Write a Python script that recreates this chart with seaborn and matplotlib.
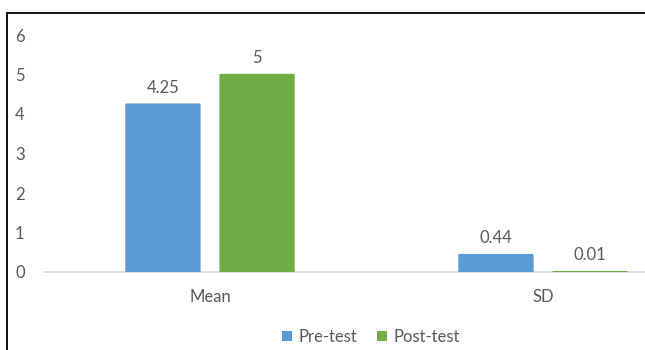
import matplotlib
matplotlib.use("Agg")
import matplotlib.pyplot as plt
from matplotlib.lines import Line2D
from matplotlib.patches import Patch
import seaborn as sns
import pandas as pd

# Summary statistics for the two test rounds
stats = ["Mean", "SD"]
pre_test = [4.25, 0.44]
post_test = [5, 0.01]
series_names = ["Pre-test", "Post-test"]
series_colors = ["#5B9BD5", "#70AD47"]
y_ticks = [0, 1, 2, 3, 4, 5, 6]

df = pd.DataFrame({
    "stat": stats * 2,
    "value": pre_test + post_test,
    "series": [series_names[0]] * len(stats) + [series_names[1]] * len(stats),
})

sns.set_theme(style="white")
plt.rcParams["font.family"] = ["Lato", "DejaVu Sans"]
text_gray = "#595959"
fs = 12

W, H = 645, 350
fig = plt.figure(figsize=(W / 100, H / 100), dpi=100)
# plot area: category band runs past the right edge of the canvas
left_px, right_px, top_px, bottom_px = 43.5, 709.5, 35, 272
ax = fig.add_axes([left_px / W, 1 - bottom_px / H,
                   (right_px - left_px) / W, (bottom_px - top_px) / H])

sns.barplot(data=df, x="stat", y="value", hue="series",
            palette=series_colors, width=0.565, gap=0.214,
            saturation=1, ax=ax, legend=False)

# thin outline in each bar's own colour keeps very small values visible
for container, color in zip(ax.containers, series_colors):
    for bar in container:
        bar.set_edgecolor(color)
        bar.set_linewidth(1.0)
        bar.set_snap(False)
        bar.set_zorder(3)

ax.set_xlim(-0.5, 1.5)
ax.set_ylim(0, 6)
ax.set_yticks(y_ticks)
ax.set_xlabel("")
ax.set_ylabel("")
for s in ax.spines.values():
    s.set_visible(False)
ax.axhline(0, color="#D9D9D9", lw=1.2, zorder=1, clip_on=False)
ax.tick_params(axis="both", length=0, labelsize=fs, colors=text_gray)
ax.tick_params(axis="x", pad=12)
ax.tick_params(axis="y", pad=17)
for lbl in ax.get_yticklabels():
    lbl.set_horizontalalignment("center")

# value labels above each bar
for container in ax.containers:
    labels = [f"{b.get_height():g}" for b in container]
    ax.bar_label(container, labels=labels, padding=6, fontsize=fs, color=text_gray)

# legend below the plot
handles = [Patch(facecolor=c, edgecolor="none") for c in series_colors]
fig.legend(handles, series_names, loc="center", bbox_to_anchor=(0.575, 0.037),
           ncol=2, frameon=False, fontsize=fs, labelcolor=text_gray,
           handlelength=0.6, handleheight=0.6, handletextpad=0.4, columnspacing=1.2)

# outer frame lines (top and left)
fig.add_artist(Line2D([7 / W, 1], [1 - 13 / H, 1 - 13 / H], color="black", lw=1.3,
                      transform=fig.transFigure))
fig.add_artist(Line2D([7 / W, 7 / W], [1 - 13 / H, 0], color="black", lw=1.3,
                      transform=fig.transFigure))

fig.savefig("out.png", dpi=100)
